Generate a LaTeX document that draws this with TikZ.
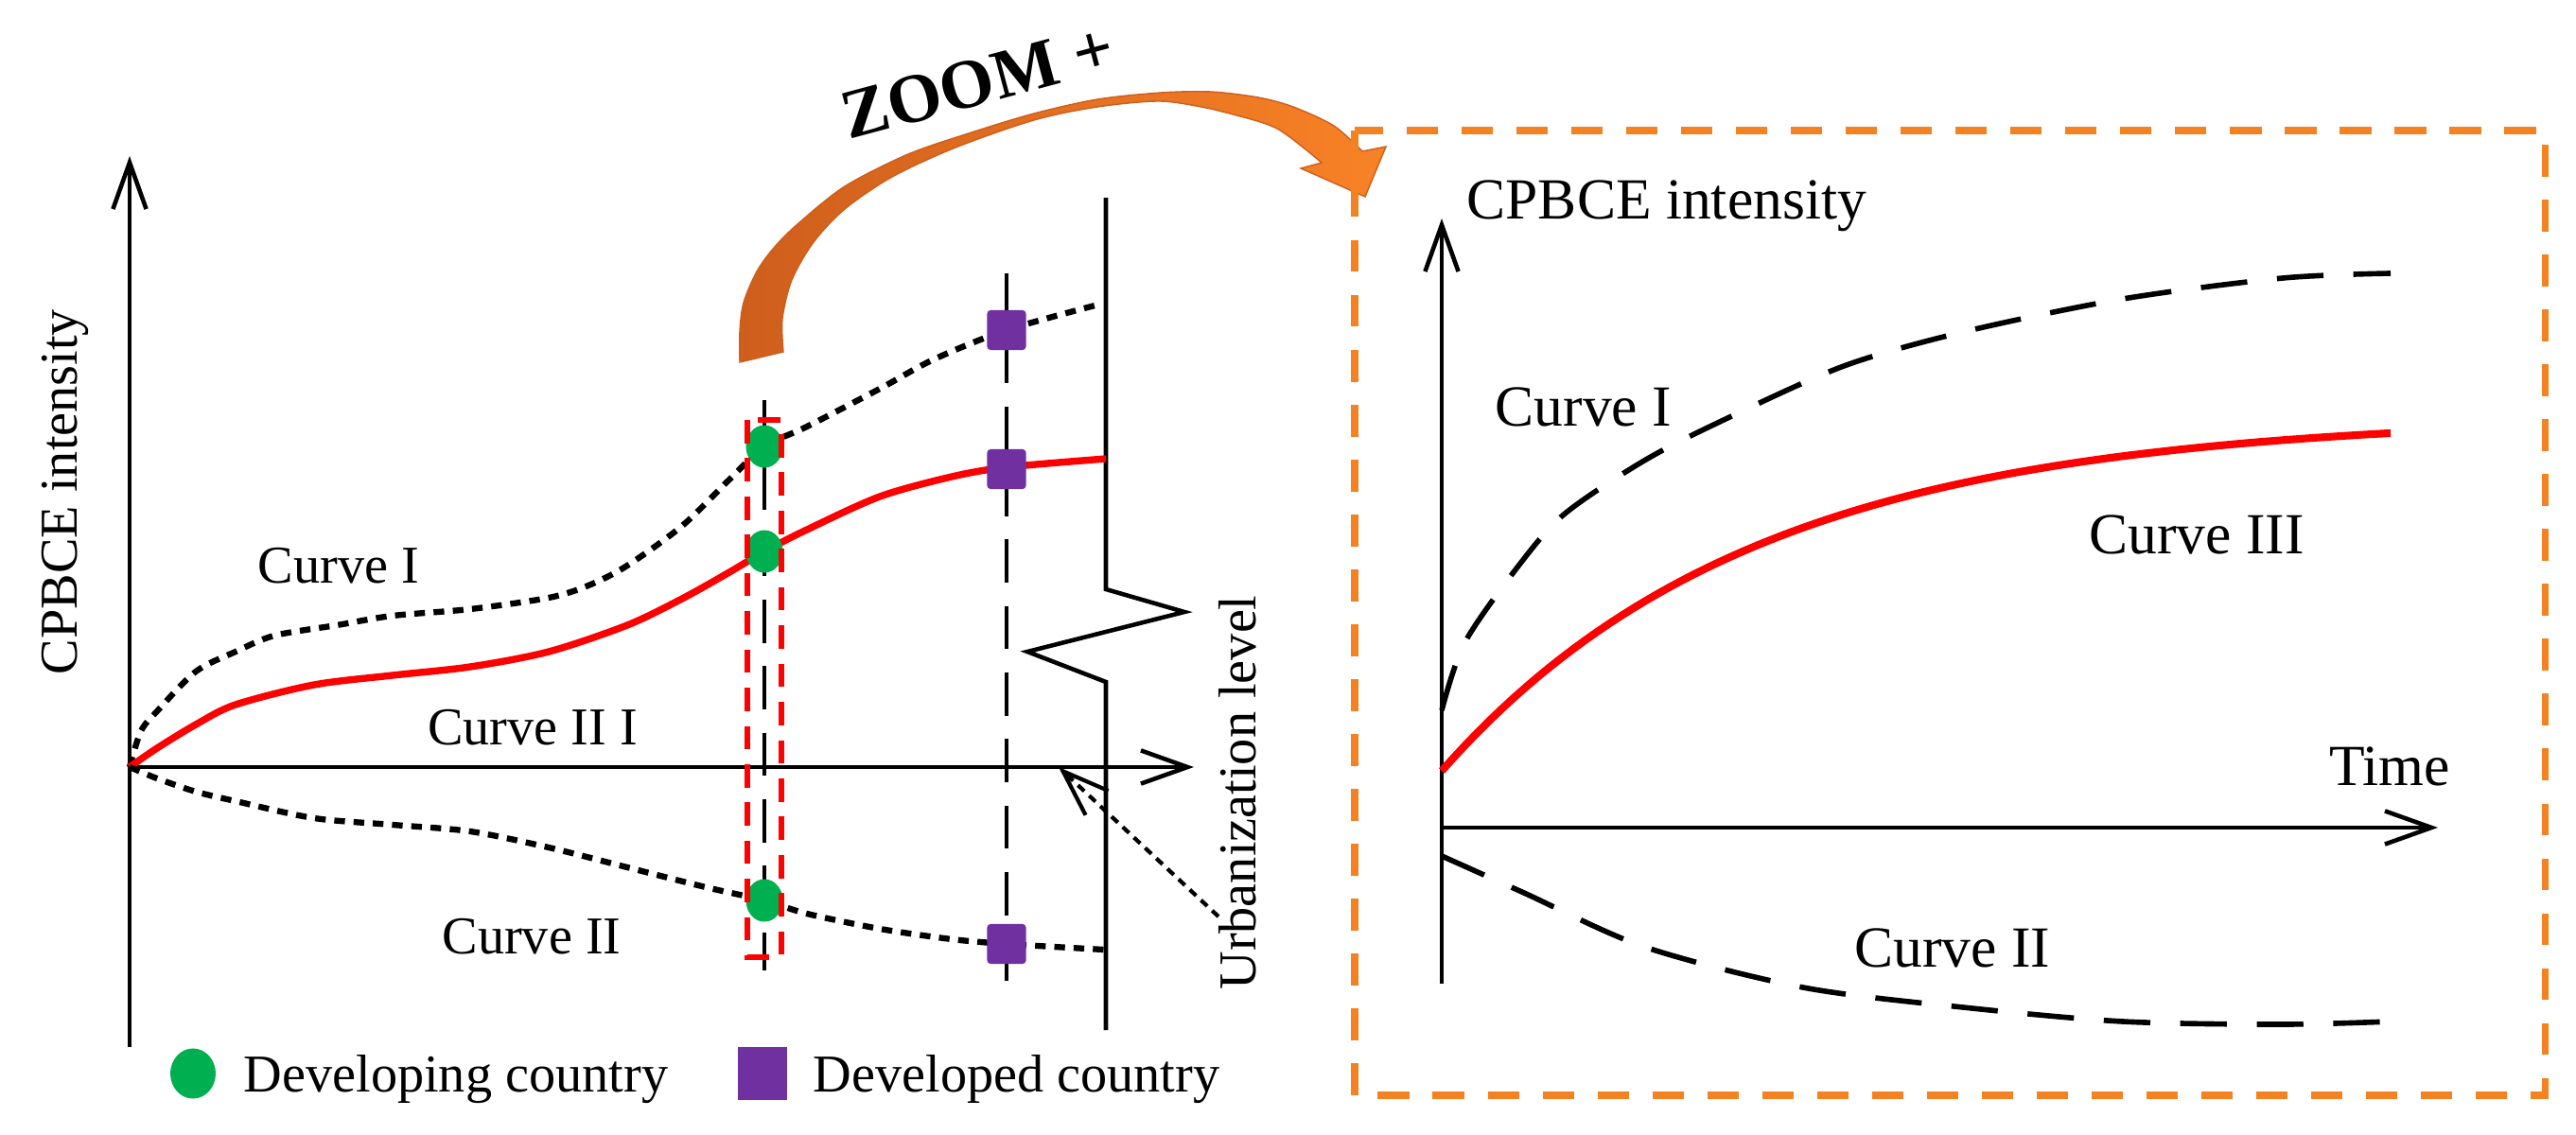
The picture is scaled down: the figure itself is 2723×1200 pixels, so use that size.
\documentclass[tikz,border=0pt]{standalone}
\usepackage{fontspec}
\setmainfont{Liberation Serif}
\usetikzlibrary{arrows.meta,shapes.geometric}
\definecolor{dgreen}{RGB}{0,176,80}
\definecolor{dpurple}{RGB}{112,48,160}
\definecolor{boxorange}{RGB}{245,130,32}
\definecolor{arrdark}{RGB}{206,94,28}
\definecolor{arrlight}{RGB}{248,130,38}
\tikzset{
  txtL/.style={inner sep=0pt, font=\fontsize{16}{19}\selectfont},
  txtR/.style={inner sep=0pt, font=\fontsize{17.5}{21}\selectfont},
  axisline/.style={line width=1.3pt, -{Straight Barb[length=14pt,width=10pt]}},
  dotcurve/.style={line width=1.8pt, dash pattern=on 3.2pt off 2.6pt},
  redcurve/.style={red, line width=2.1pt},
  vdash/.style={line width=1.4pt, dash pattern=on 13pt off 7pt},
  rdash/.style={line width=1.6pt, dash pattern=on 14pt off 9pt},
  gdot/.style={ellipse, fill=dgreen, inner sep=0pt, minimum width=0.39cm, minimum height=0.45cm},
  psq/.style={rectangle, fill=dpurple, inner sep=0pt, minimum width=0.41cm, minimum height=0.42cm, rounded corners=1pt},
  pointer/.style={line width=1.2pt, dash pattern=on 2.6pt off 2pt, -{Straight Barb[length=14pt,width=10pt]}},
}
\begin{document}
\begin{tikzpicture}[x=0.01cm,y=-0.01cm]
\useasboundingbox (0,0) rectangle (2723,1200);

% ---------- left diagram ----------
\coordinate (oL) at (137,811);
\coordinate (yTopL) at (137,165);
\coordinate (yBotL) at (137,1107);
\coordinate (xEndL) at (1262,811);
\draw[axisline] (yBotL) -- (yTopL);
\draw[axisline] (oL) -- (xEndL);

% zigzag line
\draw[line width=1.3pt] (1169,209) -- (1169,623) -- (1252,647) -- (1086,689) -- (1169,721) -- (1169,1089);

% vertical dashed lines
\draw[vdash] (808,423) -- (808,1026);
\draw[vdash] (1064,289) -- (1064,1037);

% curves
\draw[dotcurve] plot[smooth] coordinates {(137,811) (149,773) (166,752) (207,710) (249,689) (290,672) (356,661) (415,651) (497,644) (580,632) (622,619) (663,598) (721,556) (771,507) (808,472) (853,451) (930,411) (987,380) (1064,349) (1165,321)};
\draw[redcurve] plot[smooth] coordinates {(137,811) (166,791) (207,766) (249,745) (332,724) (415,714) (497,705) (580,689) (663,661) (721,633) (771,605) (808,583) (853,560) (930,525) (1006,504) (1064,494) (1169,485)};
\draw[dotcurve] plot[smooth] coordinates {(137,811) (166,823) (207,837) (249,847) (332,865) (415,872) (497,879) (580,896) (663,917) (746,938) (808,952) (853,966) (930,982) (1006,993) (1064,998) (1167,1004)};

% markers
\node[gdot] (g1) at (808,472) {};
\node[gdot] (g2) at (808,583) {};
\node[gdot] (g3) at (808,952) {};
\node[psq] (p1) at (1064,349) {};
\node[psq] (p2) at (1064,496) {};
\node[psq] (p3) at (1064,998) {};

% red dashed rectangle
\draw[red, line width=1.5pt, dash pattern=on 7pt off 4.5pt] (790,444) rectangle (826,1012);

% labels
\node[txtL, anchor=base, rotate=90] (ylabL) at (81,520) {CPBCE intensity};
\node[txtL, anchor=base] (c1L) at (358,616) {Curve I};
\node[txtL, anchor=base] (c3L) at (563,787) {Curve II I};
\node[txtL, anchor=base] (c2L) at (562,1008) {Curve II};
\node[txtL, anchor=base, rotate=90] (urb) at (1327,838) {Urbanization level};
\coordinate (ptrstart) at (1288,969);
\coordinate (ptrend) at (1119,811);
\draw[pointer] (ptrstart) -- (ptrend);

% legend
\node[ellipse, fill=dgreen, inner sep=0pt, minimum width=0.48cm, minimum height=0.53cm] (lg1) at (204,1135) {};
\node[txtL, anchor=base west] (lt1) at (257,1154) {Developing country};
\node[rectangle, fill=dpurple, inner sep=0pt, minimum width=0.52cm, minimum height=0.55cm] (lg2) at (806,1135) {};
\node[txtL, anchor=base west] (lt2) at (859,1154) {Developed country};

% ---------- zoom arrow ----------
\shadedraw[left color=arrdark, right color=arrlight, draw=arrdark, line width=0.4pt]
  plot[smooth] coordinates {(782,383) (782,350) (786,320) (800,287) (818,262) (843,237) (893,197) (960,163) (1027,140) (1093,120) (1160,105) (1227,98) (1280,97) (1330,103) (1367,113) (1410,133) (1440,160)}
  -- (1465,155) -- (1443,208) -- (1375,178) --
  plot[smooth] coordinates {(1397,172) (1350,136) (1300,120) (1280,115) (1227,107) (1160,113) (1093,127) (1010,156) (943,187) (893,221) (860,256) (837,296) (827,337) (828,372)}
  -- cycle;
\node[inner sep=0pt, anchor=base west, rotate=15, font=\bfseries\fontsize{21}{25}\selectfont] (zoomlbl) at (897,148) {ZOOM +};

% ---------- right panel ----------
\draw[boxorange, line width=2pt, dash pattern=on 9.5pt off 7pt] (1432,138) rectangle (2690,1158);
\coordinate (oR) at (1524,875);
\coordinate (yTopR) at (1524,231);
\coordinate (yBotR) at (1524,1040);
\coordinate (xEndR) at (2577,875);
\draw[axisline] (yBotR) -- (yTopR);
\draw[axisline] (oR) -- (xEndR);

\draw[rdash] plot[smooth] coordinates {(1524,751) (1548,680) (1603,601) (1653,544) (1738,487) (1822,444) (1949,387) (2075,351) (2244,316) (2413,294) (2527,289)};
\draw[red, line width=2.3pt] plot[domain=0:1003, samples=80] ({1524+\x},{815-375*(1-exp(-\x/330))});
\draw[rdash] plot[smooth] coordinates {(1524,905) (1611,944) (1738,1001) (1906,1044) (2075,1065) (2244,1080) (2413,1083) (2527,1080)};

\node[txtR, anchor=base west] (ylabR) at (1550,231) {CPBCE intensity};
\node[txtR, anchor=base] (c1R) at (1674,450) {Curve I};
\node[txtR, anchor=base] (c3R) at (2322,585) {Curve III};
\node[txtR, anchor=base] (timeR) at (2526,830) {Time};
\node[txtR, anchor=base] (c2R) at (2064,1022) {Curve II};
\end{tikzpicture}
\end{document}
